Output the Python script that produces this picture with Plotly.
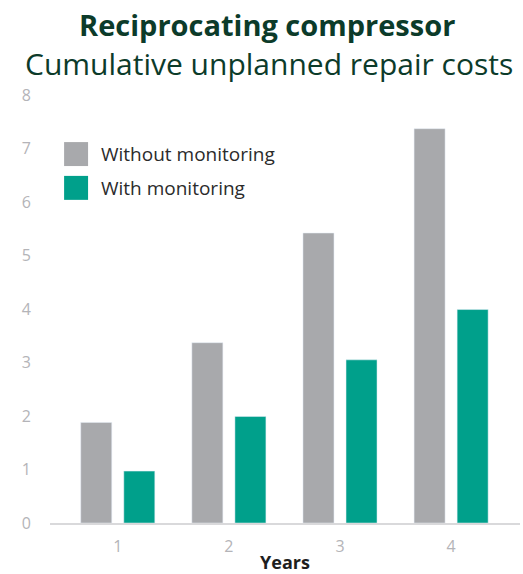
import plotly.graph_objects as go

# Data
years = ["1", "2", "3", "4"]
without_monitoring = [1.88, 3.37, 5.42, 7.37]
with_monitoring = [0.97, 1.99, 3.05, 3.99]
series_names = ["Without monitoring", "With monitoring"]
y_ticks = [0, 1, 2, 3, 4, 5, 6, 7, 8]

GRAY = "#a8a9ac"
TEAL = "#00a08b"
DARK_GREEN = "#0c3b2a"
TICK_COLOR = "#b4b4b8"
FONT = "Open Sans, sans-serif"

fig = go.Figure()

fig.add_trace(go.Bar(x=years, y=without_monitoring, name=series_names[0],
                     marker_color=GRAY))
fig.add_trace(go.Bar(x=years, y=with_monitoring, name=series_names[1],
                     marker_color=TEAL))

# Hand-made legend (larger squares than plotly's built-in legend)
legend_rows = [(0.834, 0.890, GRAY, series_names[0]),
               (0.755, 0.811, TEAL, series_names[1])]
for y0, y1, color, label in legend_rows:
    fig.add_shape(type="rect", xref="paper", yref="paper",
                  x0=0.030, x1=0.081, y0=y0, y1=y1,
                  fillcolor=color, line_width=0)
    fig.add_annotation(x=0.104, y=(y0 + y1) / 2, xref="paper", yref="paper",
                       text=label, showarrow=False, xanchor="left", yanchor="middle",
                       font=dict(family=FONT, size=19, color="#2b2b2b"))

# Title and subtitle
fig.add_annotation(text="<b>Reciprocating compressor</b>", x=0.462, y=1.165,
                   xref="paper", yref="paper", showarrow=False,
                   xanchor="center", yanchor="middle",
                   font=dict(family=FONT, size=29, color=DARK_GREEN))
fig.add_annotation(text="Cumulative unplanned repair costs", x=0.465, y=1.074,
                   xref="paper", yref="paper", showarrow=False,
                   xanchor="center", yanchor="middle",
                   font=dict(family=FONT, size=30, color=DARK_GREEN))

fig.update_layout(
    width=523, height=574,
    margin=dict(l=50, r=3, t=95, b=51),
    barmode="group",
    bargap=0.225,
    bargroupgap=0.28,
    plot_bgcolor="white",
    paper_bgcolor="white",
    font=dict(family=FONT),
    showlegend=False,
)

fig.update_xaxes(
    range=[-0.61, 3.62],
    automargin=False,
    showline=True, linecolor="#d9d9db", linewidth=2,
    showgrid=False, ticks="",
    tickfont=dict(size=16, color=TICK_COLOR),
    ticklabelstandoff=8,
    title=dict(text="<b>Years</b>", font=dict(size=18, color="#1e1e1e"), standoff=4),
)
fig.update_yaxes(
    range=[0, 8],
    automargin=False,
    tickvals=y_ticks,
    showline=False, showgrid=False, zeroline=False, ticks="",
    tickfont=dict(size=16, color=TICK_COLOR),
    ticklabelstandoff=18,
)

fig.write_html("out.html", config={"displayModeBar": False},
               post_script="document.body.style.margin='0';")
